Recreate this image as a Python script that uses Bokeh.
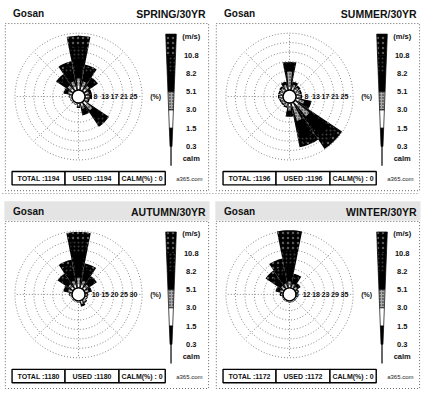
import numpy as np
from bokeh.plotting import figure
from bokeh.models import Range1d
from bokeh.embed import file_html
from bokeh.resources import INLINE
from bokeh.core.properties import value

# ---------------- data ----------------
station = "Gosan"
directions = ["N", "NNE", "NE", "ENE", "E", "ESE", "SE", "SSE",
              "S", "SSW", "SW", "WSW", "W", "WNW", "NW", "NNW"]
season_titles = ["SPRING/30YR", "SUMMER/30YR", "AUTUMN/30YR", "WINTER/30YR"]
speed_bounds = ["10.8", "8.2", "5.1", "3.0", "1.5", "0.3"]
totals = [1194, 1196, 1180, 1172]
used = [1194, 1196, 1180, 1172]
calm_pct = [0, 0, 0, 0]
ring_max = [25.2, 25.2, 30.0, 35.0]          # % at outer ring
ring_labels = [["8", "13", "17", "21", "25"],
               ["8", "13", "17", "21", "25"],
               ["5", "10", "15", "20", "25", "30"],
               ["6", "12", "18", "23", "29", "35"]]

# frequency (%) per direction and speed class (0.3-1.5, 1.5-3.0, 3.0-5.1, 5.1-8.2, 8.2-10.8, 10.8+)
spring_s1 = [0.3, 0.3, 0.3, 0.3, 0.3, 0.3, 0.4, 0.3, 0.3, 0.2, 0.2, 0.2, 0.2, 0.3, 0.3, 0.3]
spring_s2 = [1.5, 1.2, 1.0, 0.6, 0.6, 0.5, 1.5, 0.9, 0.5, 0.3, 0.3, 0.3, 0.4, 0.6, 1.0, 1.2]
spring_s3 = [3.2, 2.5, 1.8, 0.9, 0.9, 0.6, 3.0, 1.5, 0.6, 0.2, 0.2, 0.2, 0.4, 1.0, 2.0, 2.5]
spring_s4 = [9.0, 4.5, 2.8, 0.9, 0.9, 0.5, 5.0, 2.0, 0.5, 0.2, 0.2, 0.2, 0.3, 1.2, 3.2, 4.5]
spring_s5 = [5.0, 2.0, 1.0, 0.2, 0.2, 0.2, 2.3, 0.6, 0.2, 0.0, 0.0, 0.0, 0.0, 0.5, 1.5, 2.5]
spring_s6 = [5.0, 1.0, 0.4, 0.1, 0.1, 0.0, 1.0, 0.3, 0.0, 0.0, 0.0, 0.0, 0.0, 0.2, 1.0, 2.0]

summer_s1 = [0.3, 0.3, 0.3, 0.3, 0.3, 0.3, 0.4, 0.4, 0.3, 0.3, 0.3, 0.3, 0.3, 0.3, 0.3, 0.3]
summer_s2 = [0.8, 0.7, 0.6, 0.6, 0.6, 1.0, 1.5, 1.4, 0.9, 0.5, 0.4, 0.4, 0.5, 0.5, 0.6, 0.7]
summer_s3 = [7.0, 1.5, 1.2, 1.0, 1.0, 2.5, 6.5, 6.5, 2.0, 0.7, 0.5, 0.5, 0.7, 0.7, 0.9, 1.5]
summer_s4 = [3.3, 1.0, 0.7, 0.6, 0.6, 2.5, 10.5, 8.0, 2.0, 0.5, 0.4, 0.4, 0.5, 0.5, 0.6, 1.0]
summer_s5 = [0.7, 0.2, 0.2, 0.1, 0.1, 0.5, 4.0, 2.5, 0.5, 0.1, 0.1, 0.1, 0.1, 0.1, 0.2, 0.2]
summer_s6 = [0.3, 0.1, 0.0, 0.0, 0.0, 0.2, 2.1, 1.2, 0.3, 0.0, 0.0, 0.0, 0.0, 0.0, 0.0, 0.1]

autumn_s1 = [0.3, 0.3, 0.3, 0.3, 0.2, 0.2, 0.3, 0.3, 0.2, 0.2, 0.2, 0.2, 0.2, 0.3, 0.3, 0.3]
autumn_s2 = [1.5, 1.2, 1.0, 0.6, 0.4, 0.4, 0.5, 0.6, 0.3, 0.3, 0.3, 0.3, 0.4, 0.7, 1.0, 1.2]
autumn_s3 = [3.5, 2.5, 1.8, 1.0, 0.5, 0.5, 0.6, 0.9, 0.3, 0.2, 0.2, 0.2, 0.5, 1.2, 2.0, 2.5]
autumn_s4 = [13.0, 6.0, 3.5, 1.2, 0.4, 0.4, 0.5, 0.9, 0.2, 0.1, 0.1, 0.1, 0.4, 1.6, 3.4, 5.5]
autumn_s5 = [6.0, 2.0, 1.0, 0.3, 0.0, 0.0, 0.1, 0.2, 0.0, 0.0, 0.0, 0.0, 0.0, 0.5, 1.7, 3.0]
autumn_s6 = [5.2, 1.2, 0.5, 0.2, 0.0, 0.0, 0.0, 0.1, 0.0, 0.0, 0.0, 0.0, 0.0, 0.3, 1.3, 2.7]

winter_s1 = [0.3, 0.3, 0.3, 0.2, 0.2, 0.2, 0.2, 0.2, 0.2, 0.2, 0.2, 0.2, 0.2, 0.3, 0.3, 0.3]
winter_s2 = [1.0, 0.8, 0.6, 0.4, 0.3, 0.3, 0.3, 0.3, 0.3, 0.2, 0.2, 0.2, 0.4, 0.6, 0.8, 0.8]
winter_s3 = [2.5, 1.5, 1.0, 0.5, 0.4, 0.3, 0.3, 0.3, 0.3, 0.2, 0.2, 0.2, 0.5, 1.0, 1.5, 1.8]
winter_s4 = [10.0, 3.3, 1.3, 0.5, 0.3, 0.2, 0.2, 0.2, 0.2, 0.2, 0.2, 0.2, 0.5, 1.5, 4.5, 6.0]
winter_s5 = [9.0, 1.7, 0.5, 0.2, 0.0, 0.0, 0.0, 0.0, 0.0, 0.0, 0.0, 0.0, 0.2, 0.8, 3.0, 4.5]
winter_s6 = [12.7, 1.3, 0.4, 0.0, 0.0, 0.0, 0.0, 0.0, 0.0, 0.0, 0.0, 0.0, 0.0, 0.5, 3.5, 5.0]

seasons = [
    [spring_s1, spring_s2, spring_s3, spring_s4, spring_s5, spring_s6],
    [summer_s1, summer_s2, summer_s3, summer_s4, summer_s5, summer_s6],
    [autumn_s1, autumn_s2, autumn_s3, autumn_s4, autumn_s5, autumn_s6],
    [winter_s1, winter_s2, winter_s3, winter_s4, winter_s5, winter_s6],
]

# ---------------- styles / layout ----------------
FONT = value("Liberation Sans")
class_width = [0.25, 0.4, 0.5, 0.7, 0.85, 1.0]
class_style = [
    dict(fill_color="#000000"),
    dict(fill_color="#ffffff"),
    dict(fill_color="#a8a8a8", hatch_pattern="dot", hatch_color="#111111", hatch_scale=3, hatch_weight=1),
    dict(fill_color="#000000"),
    dict(fill_color="#000000", hatch_pattern="dot", hatch_color="#3c3c3c", hatch_scale=4, hatch_weight=1),
    dict(fill_color="#000000", hatch_pattern="dot", hatch_color="#5a5a5a", hatch_scale=5, hatch_weight=1),
]
offsets = [(0, 0), (219, 0), (0, 206), (219, 206)]
CX, CY = 81, 100
R0, R = 7.0, 66.0
N_RINGS = 6

p = figure(width=421, height=389, x_range=Range1d(0, 437), y_range=Range1d(405, 0),
           output_backend="svg", toolbar_location=None,
           x_axis_location=None, y_axis_location=None, min_border=0)
p.grid.visible = False
p.outline_line_color = None
p.background_fill_color = "white"


def wedge(cx, cy, r, theta, half, n=10):
    a = np.linspace(theta - half, theta + half, n)
    xs = [cx] + list(cx + r * np.sin(a))
    ys = [cy] + list(cy - r * np.cos(a))
    return xs, ys


for si, (ox, oy) in enumerate(offsets):
    cx, cy = ox + CX, oy + CY
    scale = (R - R0) / ring_max[si]

    # faint scan band behind the lower titles
    if oy > 0:
        p.quad(left=[ox + 4], right=[ox + 217], top=[oy + 3], bottom=[oy + 23],
               fill_color="#e4e4e4", line_color=None)

    # panel frame (dotted)
    fx = [ox + 5, ox + 216, ox + 216, ox + 5, ox + 5]
    fy = [oy + 24, oy + 24, oy + 198, oy + 198, oy + 24]
    p.line(fx, fy, line_color="#666666", line_dash="1 2", line_width=1)

    # titles
    p.text(x=[ox + 13], y=[oy + 14], text=[station], text_font=FONT, text_font_size="10px",
           text_font_style="bold", text_align="left", text_baseline="middle", text_color="#111")
    p.text(x=[ox + 213], y=[oy + 14], text=[season_titles[si]], text_font=FONT, text_font_size="10.5px",
           text_font_style="bold", text_align="right", text_baseline="middle", text_color="#111")

    # rings and spokes
    t = np.linspace(0, 2 * np.pi, 121)
    rxs, rys = [], []
    for k in range(1, N_RINGS + 1):
        rr = R0 + k * (R - R0) / N_RINGS
        rxs.append(list(cx + rr * np.sin(t)))
        rys.append(list(cy - rr * np.cos(t)))
    for k in range(8):
        a = k * np.pi / 4
        rxs.append([cx + R0 * np.sin(a), cx + R * np.sin(a)])
        rys.append([cy - R0 * np.cos(a), cy - R * np.cos(a)])
    p.multi_line(rxs, rys, line_color="#777777", line_dash="1 2", line_width=0.9)

    # petals: nested wedges, widest (fastest class) first
    data = np.array(seasons[si])          # shape (6, 16)
    cum = np.cumsum(data, axis=0)
    for c in range(5, -1, -1):
        xs, ys = [], []
        for d in range(16):
            if data[c, d] <= 0:
                continue
            r = R0 + cum[c, d] * scale
            th = np.radians(d * 22.5)
            wx, wy = wedge(cx, cy, r, th, np.radians(11.25) * class_width[c])
            xs.append(wx)
            ys.append(wy)
        if xs:
            p.patches(xs, ys, line_color=None, **class_style[c])

    # calm circle
    p.scatter([cx], [cy], size=2 * R0 - 1, marker="circle", fill_color="white",
              line_color="black", line_width=1.4)

    # ring labels
    labs = ring_labels[si]
    first = N_RINGS - len(labs) + 1
    lx = [cx + (R0 + k * (R - R0) / N_RINGS) - 9 for k in range(first, N_RINGS + 1)]
    p.text(x=lx, y=[cy] * len(labs), text=labs, text_font=FONT, text_font_size="7px",
           text_font_style="bold", text_align="center", text_baseline="middle", text_color="#111")
    p.text(x=[cx + 80], y=[cy], text=["(%)"], text_font=FONT, text_font_size="7px",
           text_font_style="bold", text_align="center", text_baseline="middle", text_color="#111")

    # speed legend bar (tapered)
    bx = ox + 177
    ytop, yapex, wtop = oy + 35, oy + 178, 11.0
    lab_y = [oy + 57 + i * 19 for i in range(len(speed_bounds))]
    seg_edges = [ytop] + lab_y
    for i in range(len(speed_bounds)):
        c = 5 - i
        yt, yb = seg_edges[i], seg_edges[i + 1]
        wt = wtop * (yapex - yt) / (yapex - ytop)
        wb = wtop * (yapex - yb) / (yapex - ytop)
        p.patch([bx - wt / 2, bx + wt / 2, bx + wb / 2, bx - wb / 2],
                [yt, yt, yb, yb], line_color="black", line_width=0.7, **class_style[c])
    p.line([bx, bx], [lab_y[-1], oy + 172], line_color="black", line_width=1.2)

    p.text(x=[ox + 198] * (len(speed_bounds) + 2),
           y=[oy + 37] + lab_y + [oy + 165],
           text=["(m/s)"] + speed_bounds + ["calm"], text_font=FONT, text_font_size="7.5px",
           text_font_style="bold", text_align="center", text_baseline="middle", text_color="#111")

    # info boxes
    edges = [ox + 12, ox + 67, ox + 123, ox + 171]
    p.quad(left=edges[:-1], right=edges[1:], top=[oy + 178] * 3, bottom=[oy + 192] * 3,
           fill_color="white", line_color="black", line_width=1.4)
    infos = ["TOTAL :%d" % totals[si], "USED :%d" % used[si], "CALM(%%) : %d" % calm_pct[si]]
    p.text(x=[(edges[i] + edges[i + 1]) / 2 for i in range(3)], y=[oy + 185.5] * 3, text=infos,
           text_font=FONT, text_font_size="7px", text_font_style="bold",
           text_align="center", text_baseline="middle", text_color="#111")
    p.text(x=[ox + 196], y=[oy + 186], text=["a365.com"], text_font=FONT, text_font_size="6px",
           text_align="center", text_baseline="middle", text_color="#222")

# separator between rows
p.line([2, 435], [201, 201], line_color="#888888", line_dash="1 2", line_width=1)

open("out.html", "w").write(file_html(p, INLINE))
